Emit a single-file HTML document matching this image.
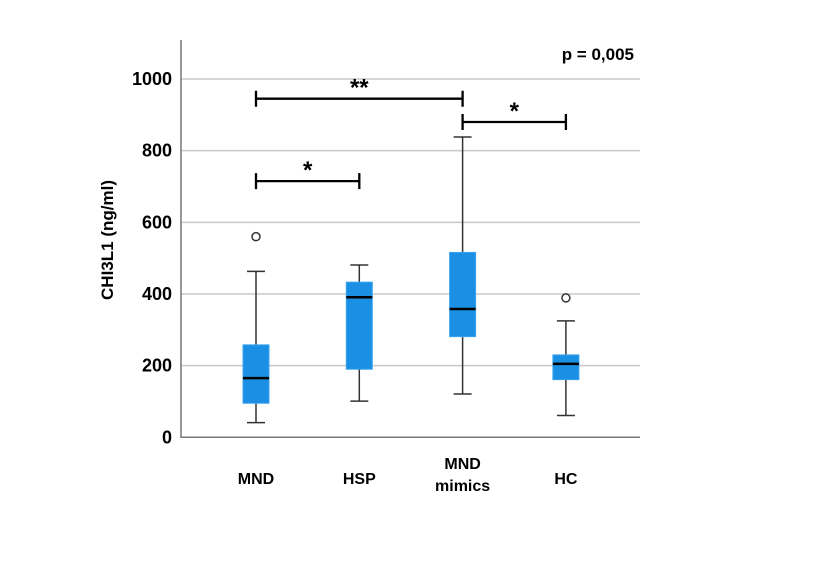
<!DOCTYPE html>
<html><head><meta charset="utf-8"><style>
body{margin:0;background:#fff;}
svg text{font-family:"Liberation Sans",Arial,sans-serif;font-weight:bold;fill:#000;}
</style></head><body>
<svg id="chart" width="837" height="570" xmlns="http://www.w3.org/2000/svg">
<g id="grid"></g><g id="boxes"></g><g id="anno"></g><g id="axes"></g>
</svg>
<script>
const categories=["MND","HSP","MND mimics","HC"];
const whiskerLow=[41,101,121,61];
const q1=[95,190,281,161];
const medians=[165,391,358,205];
const q3=[258,433,516,230];
const whiskerHigh=[463,481,838,325];
const outliers=[[560],[],[],[389]];
const yTicks=[0,200,400,600,800,1000];
const brackets=[{from:0,to:2,level:945,label:"**"},{from:2,to:3,level:880,label:"*"},{from:0,to:1,level:715,label:"*"}];
const NS="http://www.w3.org/2000/svg";
const x0=181,x1=640,yBase=437.3,k=0.3583;
const y=v=>yBase-v*k;
const x=i=>256+i*103.3;
function mk(tag,attrs,parent,text){const e=document.createElementNS(NS,tag);for(const a in attrs)e.setAttribute(a,attrs[a]);if(text!==undefined)e.textContent=text;document.getElementById(parent).appendChild(e);return e;}
yTicks.forEach(t=>{
  if(t>0){const g=mk('line',{x1:x0,x2:x1,y1:y(t),y2:y(t),stroke:'#c8c8c8','stroke-width':1.5},'grid');
  
  }
  const l=mk('text',{x:172,y:y(t)+6,'text-anchor':'end','font-size':18},'axes',t);
  
  
});
const ax=mk('path',{d:`M${x0},40 V${yBase} H${x1}`,stroke:'#777',fill:'none','stroke-width':1.5},'axes');


const yl=mk('text',{x:0,y:0,'text-anchor':'middle','font-size':17,transform:'translate(113,240) rotate(-90)'},'axes','CHI3L1 (ng/ml)');


categories.forEach((c,i)=>{
  const cx=x(i),hw=13;
  const g=document.createElementNS(NS,'g');document.getElementById('boxes').appendChild(g);
  
  
  const add=(tag,a)=>{const e=document.createElementNS(NS,tag);for(const n in a)e.setAttribute(n,a[n]);g.appendChild(e);return e;};
  add('line',{x1:cx,x2:cx,y1:y(whiskerLow[i]),y2:y(whiskerHigh[i]),stroke:'#333','stroke-width':1.5});
  add('line',{x1:cx-9,x2:cx+9,y1:y(whiskerLow[i]),y2:y(whiskerLow[i]),stroke:'#333','stroke-width':1.5});
  add('line',{x1:cx-9,x2:cx+9,y1:y(whiskerHigh[i]),y2:y(whiskerHigh[i]),stroke:'#333','stroke-width':1.5});
  add('rect',{x:cx-hw,y:y(q3[i]),width:hw*2,height:y(q1[i])-y(q3[i]),fill:'#1a8fe3',stroke:'#3aa3f0','stroke-width':1});
  add('line',{x1:cx-hw,x2:cx+hw,y1:y(medians[i]),y2:y(medians[i]),stroke:'#000','stroke-width':2.5});
  outliers[i].forEach(o=>add('circle',{cx:cx,cy:y(o),r:4,fill:'#fff',stroke:'#333','stroke-width':1.5}));
  const lines=c.split(' ');
  lines.forEach((ln,j)=>{
    const t=mk('text',{x:cx,y:(lines.length>1?469:484)+j*22,'text-anchor':'middle','font-size':16},'axes',ln);
    
    
  });
});
brackets.forEach((b,i)=>{
  const yy=y(b.level),xa=x(b.from),xb=x(b.to);
  const p=mk('path',{d:`M${xa},${yy-8} V${yy+8} M${xa},${yy} H${xb} M${xb},${yy-8} V${yy+8}`,stroke:'#000','stroke-width':2.3,fill:'none'},'anno');
  
  
  const t=mk('text',{x:(xa+xb)/2,y:yy-3,'text-anchor':'middle','font-size':24},'anno',b.label);
  
  
});
const pv=mk('text',{x:634,y:60,'text-anchor':'end','font-size':17},'anno','p = 0,005');


</script>
</body></html>
